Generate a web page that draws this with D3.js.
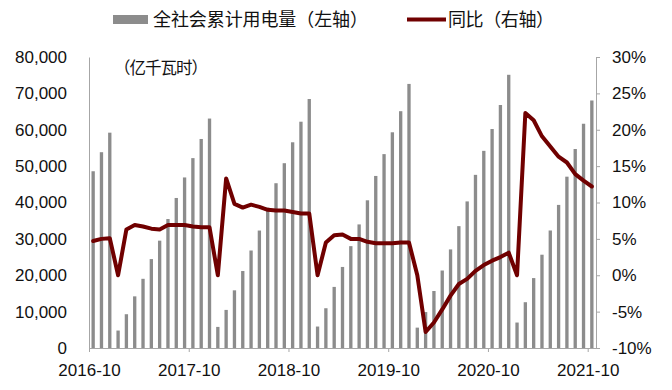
<!DOCTYPE html>
<html>
<head>
<meta charset="utf-8">
<script src="https://cdn.jsdelivr.net/npm/d3@7"></script>
<style>
  html, body { margin: 0; padding: 0; background: #fff; }
  svg { display: block; }
  .num { font-family: "Liberation Sans", Arial, sans-serif; font-size: 17px; fill: #111; }
  .cjk { font-family: "Noto Sans CJK SC", sans-serif; fill: #111; }
</style>
</head>
<body>
<svg id="chart" width="672" height="390"></svg>
<script>
const months = [
  "2016-10","2016-11","2016-12",
  "2017-01","2017-02","2017-03","2017-04","2017-05","2017-06","2017-07","2017-08","2017-09","2017-10","2017-11","2017-12",
  "2018-01","2018-02","2018-03","2018-04","2018-05","2018-06","2018-07","2018-08","2018-09","2018-10","2018-11","2018-12",
  "2019-01","2019-02","2019-03","2019-04","2019-05","2019-06","2019-07","2019-08","2019-09","2019-10","2019-11","2019-12",
  "2020-01","2020-02","2020-03","2020-04","2020-05","2020-06","2020-07","2020-08","2020-09","2020-10","2020-11","2020-12",
  "2021-01","2021-02","2021-03","2021-04","2021-05","2021-06","2021-07","2021-08","2021-09","2021-10"
];
// 全社会累计用电量（亿千瓦时）
const consumption = [
  48591, 53826, 59198,
  4800, 9286, 14199, 19021, 24441, 29508, 35457, 41245, 46888, 52201, 57462, 63077,
  5800, 10471, 15852, 21161, 26802, 32291, 38580, 45300, 50802, 56554, 62212, 68449,
  5900, 10930, 16795, 22283, 28000, 33977, 40605, 47300, 53300, 59300, 65100, 72600,
  5600, 9880, 15670, 21300, 27100, 33500, 40300, 47600, 54200, 60200, 66800, 75110,
  7000, 12588, 19219, 25648, 32305, 39339, 47097, 54704, 61651, 68044
];
// 同比（%）
const yoy = [
  4.7, 5.0, 5.1,
  0, 6.3, 6.9, 6.7, 6.4, 6.3, 6.9, 6.9, 6.9, 6.7, 6.6, 6.6,
  0, 13.3, 9.8, 9.3, 9.7, 9.4, 9.0, 8.9, 8.9, 8.7, 8.5, 8.5,
  0, 4.5, 5.5, 5.6, 5.0, 5.0, 4.6, 4.4, 4.4, 4.4, 4.5, 4.5,
  0, -7.8, -6.5, -4.7, -2.8, -1.2, -0.5, 0.6, 1.4, 2.0, 2.5, 3.1,
  0, 22.3, 21.3, 19.1, 17.7, 16.3, 15.5, 13.9, 13.0, 12.2
];
const leftTicks = [0, 10000, 20000, 30000, 40000, 50000, 60000, 70000, 80000];
const rightTicks = [-10, -5, 0, 5, 10, 15, 20, 25, 30];
const xTickLabels = ["2016-10","2017-10","2018-10","2019-10","2020-10","2021-10"];
const seriesNames = ["全社会累计用电量（左轴）", "同比（右轴）"];
const unitLabel = "（亿千瓦时）";

const svg = d3.select("#chart");
const X0 = 89, X1 = 596, YB = 348, YT = 57;
const barColor = "#8c8c8c", lineColor = "#700000", axisColor = "#a6a6a6";

const x = d3.scaleBand().domain(months).range([X0, X1]).paddingInner(0.6).paddingOuter(0.3);
const xl = d3.scaleLinear().domain([0, months.length]).range([X0, X1]);
const yL = d3.scaleLinear().domain([0, 80000]).range([YB, YT]);
const yR = d3.scaleLinear().domain([-10, 30]).range([YB, YT]);

// bars
svg.append("g").selectAll("rect").data(months).join("rect")
  .attr("x", d => x(d))
  .attr("width", x.bandwidth())
  .attr("y", (d, i) => yL(consumption[i]))
  .attr("height", (d, i) => YB - yL(consumption[i]))
  .attr("fill", barColor);

// left axis
const gL = svg.append("g").attr("transform", `translate(${X0},0)`)
  .call(d3.axisLeft(yL).tickValues(leftTicks).tickSize(0).tickPadding(22).tickFormat(d3.format(",")));
gL.select(".domain").attr("stroke", axisColor);
gL.selectAll("text").attr("class", "num");

// right axis
const gR = svg.append("g").attr("transform", `translate(${X1},0)`)
  .call(d3.axisRight(yR).tickValues(rightTicks).tickSizeInner(4).tickSizeOuter(4).tickPadding(12).tickFormat(d => d + "%"));
gR.select(".domain").attr("stroke", axisColor);
gR.selectAll(".tick line").attr("stroke", axisColor);
gR.selectAll("text").attr("class", "num");

// bottom axis
const gB = svg.append("g").attr("transform", `translate(0,${YB})`)
  .call(d3.axisBottom(xl).tickValues(xTickLabels.map(l => months.indexOf(l)))
    .tickSizeInner(4).tickSizeOuter(0).tickPadding(11.5).tickFormat(i => months[i]));
gB.select(".domain").attr("stroke", axisColor);
gB.selectAll(".tick line").attr("stroke", axisColor);
gB.selectAll("text").attr("class", "num");

// line
const line = d3.line()
  .x((d, i) => x(months[i]) + x.bandwidth() / 2)
  .y(d => yR(d));
svg.append("path").datum(yoy)
  .attr("d", line)
  .attr("fill", "none")
  .attr("stroke", lineColor)
  .attr("stroke-width", 4)
  .attr("stroke-linejoin", "round")
  .attr("stroke-linecap", "round");

// unit label
svg.append("text").attr("class", "cjk").attr("x", 114).attr("y", 74)
  .attr("font-size", 16.5).attr("textLength", 94).attr("lengthAdjust", "spacing").text(unitLabel);

// legend
const lg = svg.append("g");
lg.append("rect").attr("x", 113).attr("y", 15).attr("width", 35).attr("height", 9).attr("fill", barColor);
lg.append("text").attr("class", "cjk").attr("x", 153).attr("y", 26).attr("font-size", 18)
  .attr("textLength", 215).attr("lengthAdjust", "spacing").text(seriesNames[0]);
lg.append("line").attr("x1", 407).attr("x2", 446).attr("y1", 19.5).attr("y2", 19.5)
  .attr("stroke", lineColor).attr("stroke-width", 4);
lg.append("text").attr("class", "cjk").attr("x", 448).attr("y", 26).attr("font-size", 18)
  .attr("textLength", 106).attr("lengthAdjust", "spacing").text(seriesNames[1]);
</script>
</body>
</html>
